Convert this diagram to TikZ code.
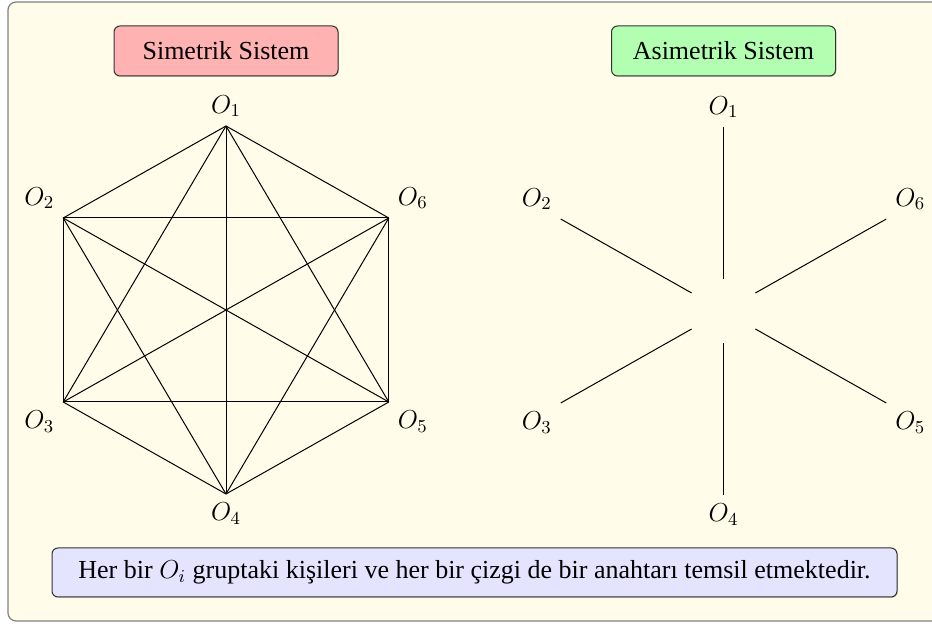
\RequirePackage{fix-cm}
\documentclass[tikz,border=0pt]{standalone}
\usepackage{fontspec}
\setmainfont{Liberation Serif}
\usetikzlibrary{shadows}
\definecolor{bgcol}{RGB}{255,252,234}
\definecolor{framecol}{RGB}{128,128,128}
\definecolor{pinkfill}{RGB}{255,178,178}
\definecolor{greenfill}{RGB}{178,255,178}
\definecolor{bluefill}{RGB}{228,228,255}
\tikzset{
  titlebox/.style={rectangle, rounded corners=3pt, draw=black!80, line width=0.5pt,
    minimum width=112pt, minimum height=25pt, inner sep=0pt,
    drop shadow={shadow xshift=0.4pt, shadow yshift=-0.4pt, opacity=0.45}},
  notebox/.style={titlebox, minimum width=422.5pt, minimum height=24.5pt},
  lbl/.style={inner sep=4.3pt},
  edge/.style={black, line width=0.5pt},
  hub/.style={rectangle, minimum size=31.5pt, inner sep=0pt, draw=none},
}
\begin{document}
\begin{tikzpicture}[x=0.5pt,y=-0.5pt, font=\fontsize{13}{15.6}\selectfont]
\useasboundingbox (0,0) rectangle (932,624);
\draw[framecol, fill=bgcol, line width=0.6pt, rounded corners=4pt] (8,2) rectangle (941,621);

% titles
\node[titlebox, fill=pinkfill] (t1) at (226,51) {Simetrik Sistem};
\node[titlebox, fill=greenfill] (t2) at (723.5,51) {Asimetrik Sistem};

% left: complete graph
\coordinate (v1) at (226,126);
\coordinate (v2) at (63.2,218);
\coordinate (v3) at (63.2,402);
\coordinate (v4) at (226,494);
\coordinate (v5) at (388.8,402);
\coordinate (v6) at (388.8,218);
\foreach \i/\j in {1/2,1/3,1/4,1/5,1/6,2/3,2/4,2/5,2/6,3/4,3/5,3/6,4/5,4/6,5/6}
  \draw[edge] (v\i) -- (v\j);
\node[lbl, above] (a1) at (v1) {$O_1$};
\node[lbl, above left] (a2) at (v2) {$O_2$};
\node[lbl, below left] (a3) at (v3) {$O_3$};
\node[lbl, below] (a4) at (v4) {$O_4$};
\node[lbl, below right] (a5) at (v5) {$O_5$};
\node[lbl, above right] (a6) at (v6) {$O_6$};

% right: star
\node[hub] (c) at (723.5,311) {};
\coordinate (w1) at (723.5,127);
\coordinate (w2) at (560.7,219);
\coordinate (w3) at (560.7,403);
\coordinate (w4) at (723.5,495);
\coordinate (w5) at (886.3,403);
\coordinate (w6) at (886.3,219);
\foreach \i in {1,...,6}
  \draw[edge] (w\i) -- (c);
\node[lbl, above] (b1) at (w1) {$O_1$};
\node[lbl, above left] (b2) at (w2) {$O_2$};
\node[lbl, below left] (b3) at (w3) {$O_3$};
\node[lbl, below] (b4) at (w4) {$O_4$};
\node[lbl, below right] (b5) at (w5) {$O_5$};
\node[lbl, above right] (b6) at (w6) {$O_6$};

% note
\node[notebox, fill=bluefill] (note) at (474.5,572.5)
  {Her bir $O_i$ gruptaki kişileri ve her bir çizgi de bir anahtarı temsil etmektedir.};
\end{tikzpicture}
\end{document}
